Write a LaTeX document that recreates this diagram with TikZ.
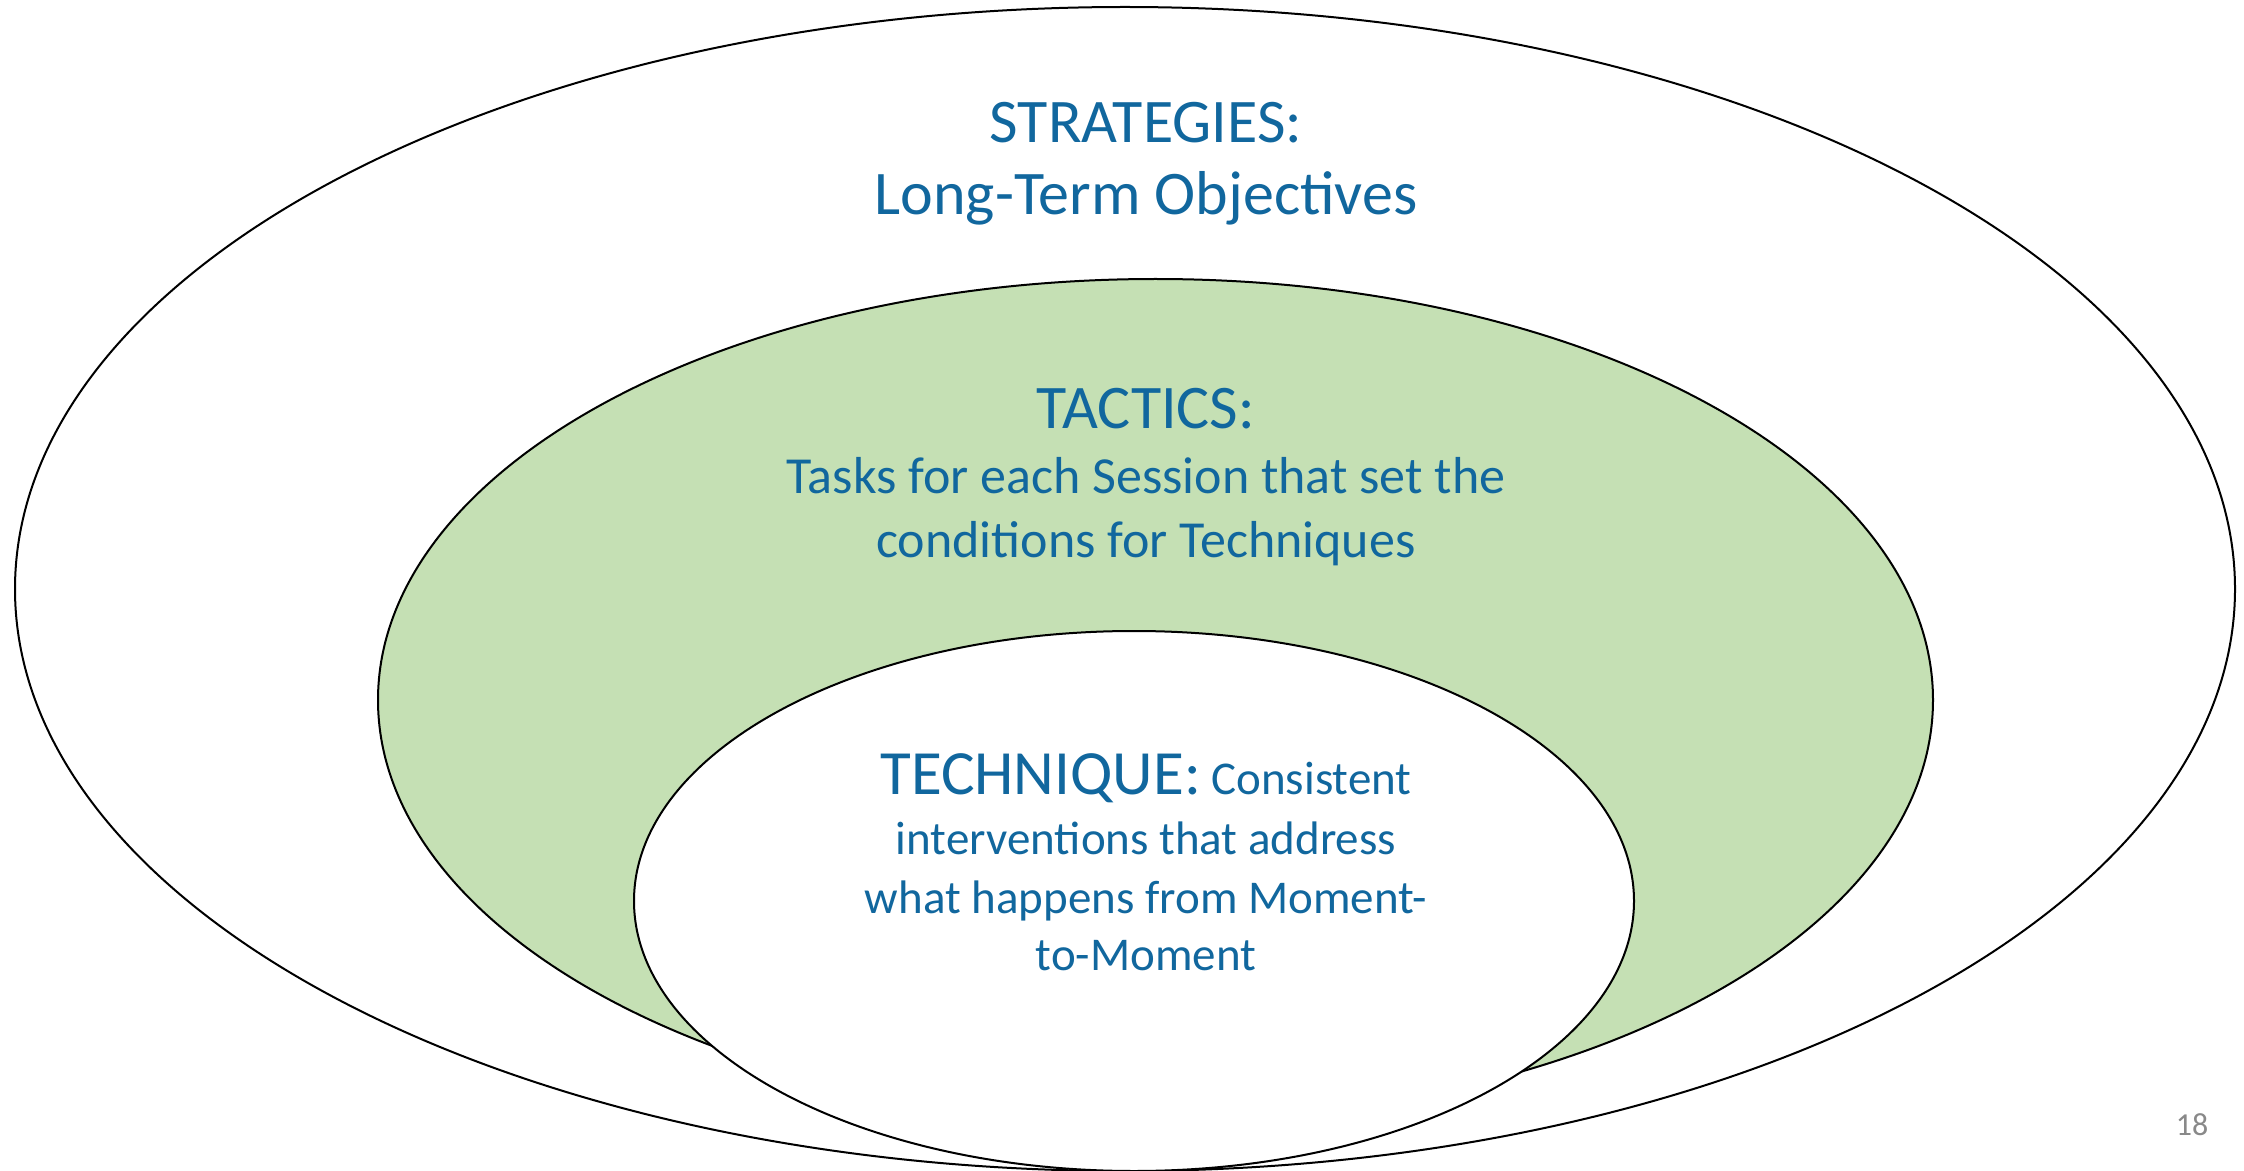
\documentclass[tikz,border=0pt]{standalone}
\usepackage{fontspec}
\setmainfont{Carlito}
\definecolor{txtblue}{RGB}{17,103,158}
\definecolor{tacgreen}{HTML}{C5E0B4}
\definecolor{pagegray}{RGB}{137,137,137}
\begin{document}
\begin{tikzpicture}[x=0.5pt,y=-0.5pt,
  ring/.style={draw=black,line width=1pt},
  headtxt/.style={font=\fontsize{31}{37}\selectfont,text=txtblue,inner sep=0pt,anchor=base},
  tactxt/.style={font=\fontsize{26}{31}\selectfont,text=txtblue,inner sep=0pt,anchor=base},
  techtxt/.style={font=\fontsize{23.5}{28}\selectfont,text=txtblue,inner sep=0pt,anchor=base},
  pagetxt/.style={font=\fontsize{16}{19}\selectfont,text=pagegray,inner sep=0pt,anchor=base}]
\useasboundingbox (0,0) rectangle (2244,1171);
\fill[white] (0,0) rectangle (2244,1171);
% ellipses
\draw[ring,fill=white] (1125,589) ellipse [x radius=555pt, y radius=291pt];
\draw[ring,fill=tacgreen] (1155.5,700) ellipse [x radius=388.75pt, y radius=210.5pt];
\draw[ring,fill=white] (1134,901) ellipse [x radius=250pt, y radius=135pt];
% texts
\node[headtxt] (strat) at (1146,143) {STRATEGIES:};
\node[headtxt] (stratsub) at (1146,215) {Long-Term Objectives};
\node[headtxt] (tac) at (1146,429) {TACTICS:};
\node[tactxt] (tacA) at (1146,494) {Tasks for each Session that set the};
\node[tactxt] (tacB) at (1146,558) {conditions for Techniques};
\node[techtxt] (tech) at (1146,794) {{\fontsize{31.5}{38}\selectfont TECHNIQUE:} Consistent};
\node[techtxt] (techA) at (1146,854) {interventions that address};
\node[techtxt] (techB) at (1146,913) {what happens from Moment-};
\node[techtxt] (techC) at (1146,970) {to-Moment};
\node[pagetxt] (pagenum) at (2192,1135) {18};
\end{tikzpicture}
\end{document}
